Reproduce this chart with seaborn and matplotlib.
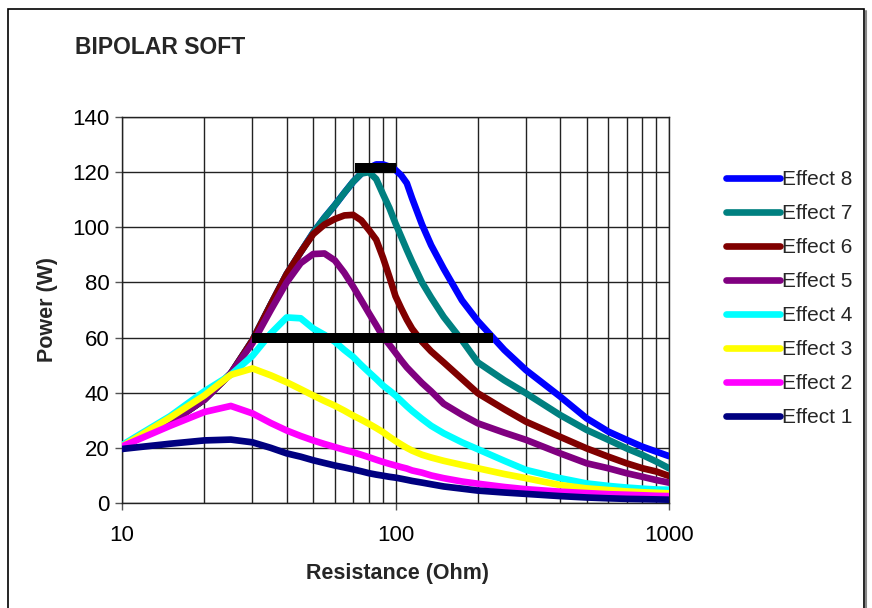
import numpy as np
import pandas as pd
import seaborn as sns
import matplotlib.pyplot as plt
from matplotlib.patches import Rectangle
from matplotlib.lines import Line2D

# resistance (Ohm) sample points
resistance = [10, 15, 20, 25, 30, 35, 40, 45, 50, 55, 60, 65, 70, 75, 80, 85, 90, 95,
              100, 105, 110, 115, 125, 135, 150, 175, 200, 250, 300, 400, 500, 600, 700, 800, 900, 1000]

effect_8 = [20.5, 29, 37.5, 47, 59, 72, 83, 91, 98, 103.5, 108, 112.5, 116.5, 119.5, 121.5, 122.8, 122.8, 122,
            120.8, 118.8, 116, 110.5, 101, 93.5, 85, 73.5, 66, 55.5, 48.2, 38.6, 30.7, 25.9, 22.9, 20.4, 18.6, 17]
effect_7 = [20.5, 29, 37.5, 47, 59, 72, 83, 91, 98, 103.5, 108, 112.5, 116.5, 119.5, 120, 117.5, 112, 107,
            101.4, 96.5, 91.8, 87.5, 80, 74.5, 67.5, 59, 51, 44.5, 39.8, 31.9, 26.5, 22.9, 19.8, 17.4, 15, 12.6]
effect_6 = [20.5, 29, 37.5, 47, 59, 72, 83, 91, 97.5, 101, 103, 104.3, 104.5, 102.5, 99, 95.5, 89, 82,
            75, 70.5, 66.5, 63.2, 58.5, 55, 51, 45, 39.8, 34, 29.5, 24, 19.8, 16.8, 14.4, 12.6, 11.4, 9.8]
effect_5 = [20.5, 29, 37.5, 47, 58, 70, 80, 87, 90.3, 90.5, 88, 83.5, 78.5, 73.5, 68.8, 64.5, 60.3, 57.4,
            54.5, 51.7, 49.2, 47.2, 43.5, 40.5, 36, 32, 28.9, 25.5, 22.9, 18, 14.4, 12.6, 10.8, 9.5, 8.3, 7.4]
effect_4 = [21, 31.5, 40.5, 46.5, 53.4, 61.5, 67.3, 67, 63.3, 61, 58.5, 55.5, 53, 50, 47.4, 45, 42.6, 40.8,
            39, 37, 35.1, 33.4, 30.5, 28, 25.3, 22, 19.5, 15.3, 12, 9, 7.1, 6.2, 5.6, 5.2, 4.9, 4.8]
effect_3 = [20.5, 31, 39, 46.5, 48.8, 46.3, 43.8, 41.3, 39, 37, 35.3, 33.5, 31.7, 30.2, 28.7, 27.2, 25.7, 24,
            22.5, 21.2, 20, 19, 17.5, 16.5, 15.3, 13.8, 12.6, 10.5, 9, 6.5, 5.3, 4.7, 4.2, 3.9, 3.7, 3.5]
effect_2 = [20.5, 28, 33, 35.2, 32.5, 29, 26.3, 24.3, 22.7, 21.4, 20.3, 19.3, 18.4, 17.5, 16.6, 15.7, 14.9, 14.2,
            13.6, 13, 12.5, 11.8, 11, 10, 9, 7.8, 7, 5.8, 5, 4.1, 3.6, 3.2, 3, 2.8, 2.6, 2.5]
effect_1 = [19.6, 21.5, 22.7, 23, 22, 20, 18, 16.8, 15.5, 14.5, 13.6, 12.9, 12.2, 11.5, 10.8, 10.3, 9.9, 9.5,
            9.2, 8.8, 8.4, 8, 7.4, 6.8, 6, 5.2, 4.5, 3.8, 3.3, 2.5, 2, 1.7, 1.5, 1.4, 1.3, 1.2]

series_names = ["Effect 8", "Effect 7", "Effect 6", "Effect 5",
                "Effect 4", "Effect 3", "Effect 2", "Effect 1"]
series_values = [effect_8, effect_7, effect_6, effect_5,
                 effect_4, effect_3, effect_2, effect_1]
series_colors = ["#0000FF", "#008080", "#800000", "#800080",
                 "#00FFFF", "#FFFF00", "#FF00FF", "#000080"]

# the two black limit bars
bar_low_x = [30, 228]
bar_low_y = [60, 60]
bar_high_x = [71, 100]
bar_high_y = [121.5, 121.5]

y_ticks = [0, 20, 40, 60, 80, 100, 120, 140]
x_ticks = [10, 100, 1000]
x_minor = [20, 30, 40, 50, 60, 70, 80, 90, 200, 300, 400, 500, 600, 700, 800, 900]

sns.set_theme(style="ticks")
plt.rcParams['font.family'] = ['Liberation Sans', 'DejaVu Sans']

fig = plt.figure(figsize=(8.72, 6.08), dpi=100)
ax = fig.add_axes([122 / 872, 105 / 608, 547 / 872, 386 / 608])

df = pd.DataFrame({"R": resistance})
for name, vals, col in zip(series_names, series_values, series_colors):
    df[name] = vals
    sns.lineplot(data=df, x="R", y=name, color=col, linewidth=4.8, ax=ax,
                 solid_capstyle="round", solid_joinstyle="round", zorder=3)

ax.plot(bar_low_x, bar_low_y, color="black", linewidth=7.2, solid_capstyle="butt", zorder=4)
ax.plot(bar_high_x, bar_high_y, color="black", linewidth=7.2, solid_capstyle="butt", zorder=4)

ax.set_xscale("log")
ax.set_xlim(10, 1000)
ax.set_ylim(0, 140)
ax.set_xticks(x_ticks)
ax.set_xticklabels([str(t) for t in x_ticks])
ax.set_xticks(x_minor, minor=True)
ax.set_xticklabels([], minor=True)
ax.set_yticks(y_ticks)
ax.set_yticklabels([str(t) for t in y_ticks])
ax.tick_params(axis="x", which="major", length=5, width=1, color="#555555", pad=11,
               labelsize=16, labelcolor="black")
ax.tick_params(axis="x", which="minor", length=0)
ax.tick_params(axis="y", length=5, width=1, color="#555555", pad=4,
               labelsize=16, labelcolor="black")
ax.grid(True, which="both", axis="x", color="#222222", linewidth=1.0)
ax.grid(True, which="major", axis="y", color="#222222", linewidth=1.0)
ax.set_axisbelow(True)
for s in ax.spines.values():
    s.set_color("#222222")
    s.set_linewidth(1.0)
ax.set_xlabel("")
ax.set_ylabel("")

handles = [Line2D([0], [0], color=c, linewidth=4.8, solid_capstyle="round") for c in series_colors]
fig.legend(handles, series_names, loc="upper left", bbox_to_anchor=(726 / 872, 1 - 170 / 608),
           frameon=False, fontsize=15, handlelength=2.6, handletextpad=0.1,
           labelspacing=0.72, borderaxespad=0, borderpad=0)

fig.text(75 / 872, 1 - 48 / 608, "BIPOLAR SOFT", fontsize=16.5, fontweight="bold",
         ha="left", va="center")
fig.text(47 / 872, 1 - 310 / 608, "Power (W)", fontsize=15.5, fontweight="bold",
         rotation=90, ha="center", va="center")
fig.text(397 / 872, 1 - 573 / 608, "Resistance (Ohm)", fontsize=15.5, fontweight="bold",
         ha="center", va="center")

# outer chart frame with a light shadow on the right
fig.add_artist(Line2D([866 / 872, 866 / 872], [0, 1 - 11 / 608], transform=fig.transFigure,
                      color="#888888", linewidth=1.5))
fig.patches.append(Rectangle((8 / 872, -0.05), 856 / 872, 1.05 - 9 / 608,
                             transform=fig.transFigure, fill=False,
                             edgecolor="black", linewidth=1.2, zorder=1))

fig.savefig("out.png", dpi=100)
